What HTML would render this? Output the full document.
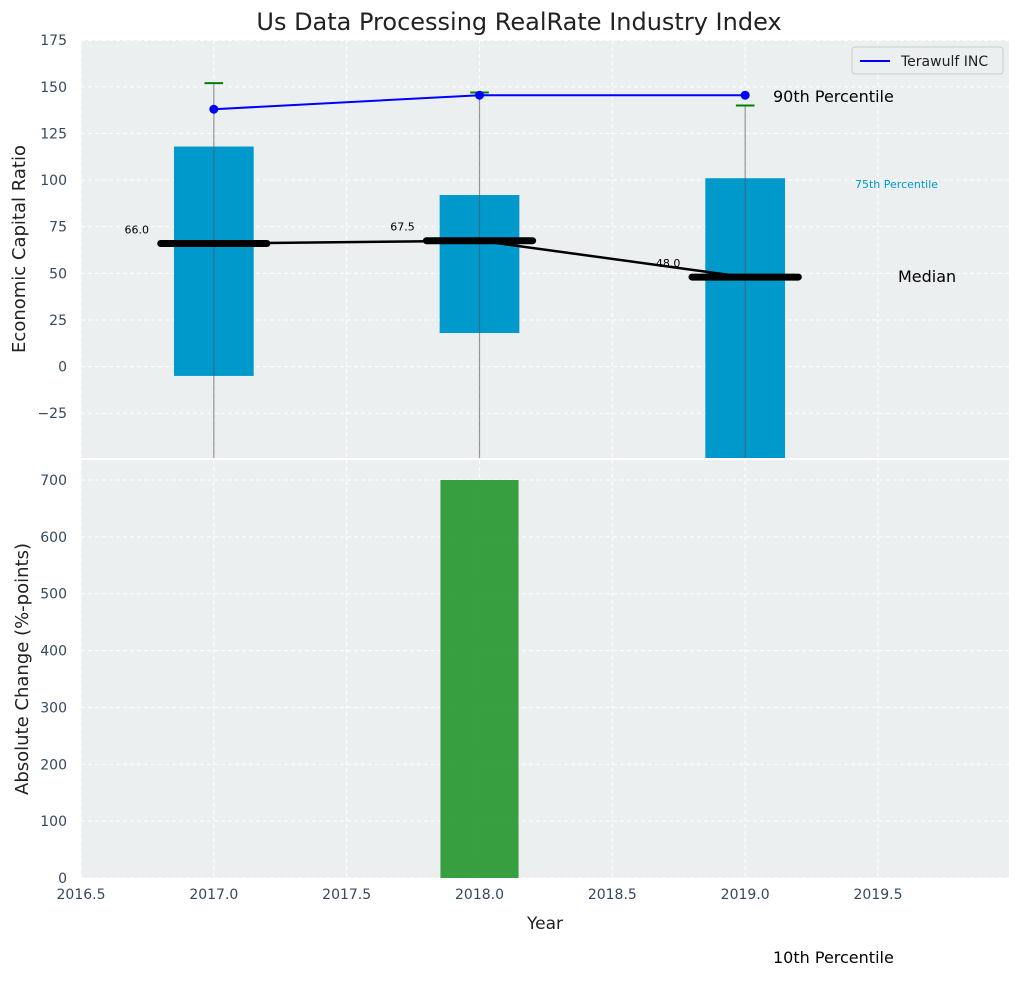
<!DOCTYPE html>
<html><head><meta charset="utf-8"><style>
body{margin:0;background:#fff;}
svg text{font-family:"DejaVu Sans","Liberation Sans",sans-serif;}
</style></head><body>
<svg id="c" width="1019" height="976" xmlns="http://www.w3.org/2000/svg"></svg>
<script>
const years=[2017,2018,2019];
const boxLow=[-5,18,-60];
const boxHigh=[118,92,101];
const whiskerTop=[152,147,140];
const companyVals=[138,145.5,145.5];
const medians=[66,67.5,48];
const changeYears=[2018];
const changeVals=[700];
const xTicks=[2016.5,2017,2017.5,2018,2018.5,2019,2019.5];
const yTopTicks=[-25,0,25,50,75,100,125,150,175];
const yBotTicks=[0,100,200,300,400,500,600,700];

const NS="http://www.w3.org/2000/svg";
const svg=document.getElementById('c');
function el(t,a,p){const e=document.createElementNS(NS,t);for(const k in a)e.setAttribute(k,a[k]);(p||svg).appendChild(e);return e;}
const L=81,R=1009,T1=40,B1=458,T2=460,B2=878;
const x=v=>L+(v-2016.5)*(797/3);
const y1=v=>366.6-v*(46.625/25);
const y2=v=>B2-v*(398/700);

let r=el('rect',{x:L,y:T1,width:R-L,height:B1-T1,fill:'#ebeff0'});

r=el('rect',{x:L,y:T2,width:R-L,height:B2-T2,fill:'#ebeff0'});


const clip=el('clipPath',{id:'cp1'});el('rect',{x:L,y:T1,width:R-L,height:B1-T1},clip);
const g1=el('g',{'clip-path':'url(#cp1)'});

const g2=el('g',{});


xTicks.forEach(v=>{
 el('line',{x1:x(v),x2:x(v),y1:T1,y2:B1,stroke:'#fff','stroke-dasharray':'4,3','stroke-width':1},g1);
 el('line',{x1:x(v),x2:x(v),y1:T2,y2:B2,stroke:'#fff','stroke-dasharray':'4,3','stroke-width':1},g2);
 const t=el('text',{x:x(v),y:B2+21,'font-size':14,fill:'#34495e','text-anchor':'middle'});t.textContent=v.toFixed(1);
 
});
yTopTicks.forEach(v=>{
 el('line',{x1:L,x2:R,y1:y1(v),y2:y1(v),stroke:'#fff','stroke-dasharray':'4,3'},g1);
 const t=el('text',{x:L-14,y:y1(v)+5,'font-size':14,fill:'#34495e','text-anchor':'end'});t.textContent=v<0?'\u2212'+(-v):v;
 
});
yBotTicks.forEach(v=>{
 el('line',{x1:L,x2:R,y1:y2(v),y2:y2(v),stroke:'#fff','stroke-dasharray':'4,3'},g2);
 const t=el('text',{x:L-14,y:y2(v)+5,'font-size':14,fill:'#34495e','text-anchor':'end'});t.textContent=v;
 
});

years.forEach((yr,i)=>{
 const b=el('rect',{x:x(yr-0.15),y:y1(boxHigh[i]),width:x(yr+0.15)-x(yr-0.15),height:y1(boxLow[i])-y1(boxHigh[i]),fill:'#0099cc'},g1);
 
 const w=el('line',{x1:x(yr),x2:x(yr),y1:B1+5,y2:y1(whiskerTop[i]),stroke:'#555','stroke-opacity':0.6,'stroke-width':1.2},g1);
 
 const c=el('line',{x1:x(yr-0.035),x2:x(yr+0.035),y1:y1(whiskerTop[i]),y2:y1(whiskerTop[i]),stroke:'green','stroke-width':2},g1);
 
});
let pts=years.map((yr,i)=>x(yr)+','+y1(medians[i])).join(' ');
let p=el('polyline',{points:pts,fill:'none',stroke:'#000','stroke-width':2.5},g1);

years.forEach((yr,i)=>{
 const m=el('line',{x1:x(yr-0.2),x2:x(yr+0.2),y1:y1(medians[i]),y2:y1(medians[i]),stroke:'#000','stroke-width':7,'stroke-linecap':'round'},g1);
 
 const t=el('text',{x:x(yr-0.29),y:y1(medians[i])-10,'font-size':11,fill:'#000','text-anchor':'middle'},g1);t.textContent=medians[i].toFixed(1);
 
});
pts=years.map((yr,i)=>x(yr)+','+y1(companyVals[i])).join(' ');
p=el('polyline',{points:pts,fill:'none',stroke:'#0000ff','stroke-width':2},g1);

years.forEach((yr,i)=>{
 const d=el('circle',{cx:x(yr),cy:y1(companyVals[i]),r:4.5,fill:'#0000ff'},g1);
 
});
changeYears.forEach((yr,i)=>{
 const b=el('rect',{x:x(yr-0.147),y:y2(changeVals[i]),width:x(yr+0.147)-x(yr-0.147),height:y2(0)-y2(changeVals[i]),fill:'#2e9a36','fill-opacity':0.95},g2);
 
});

function txt(s,a,n){const t=el('text',a);t.textContent=s;return t;}
txt('Us Data Processing RealRate Industry Index',{x:519,y:30,'font-size':24,fill:'#222','text-anchor':'middle'},'chart-title');
txt('90th Percentile',{x:773,y:102,'font-size':16,fill:'#000'},'label-90th');
txt('75th Percentile',{x:855,y:188,'font-size':11,fill:'#0099cc'},'label-75th');
txt('Median',{x:898,y:282,'font-size':16,fill:'#000'},'label-median');
txt('10th Percentile',{x:773,y:963,'font-size':16,fill:'#000'},'label-10th');
txt('Year',{x:545,y:929,'font-size':17,fill:'#222','text-anchor':'middle'},'x-axis-title');
txt('Economic Capital Ratio',{x:25,y:249,'font-size':18,fill:'#222','text-anchor':'middle',transform:'rotate(-90 25 249)'},'y-axis-title-top');
txt('Absolute Change (%-points)',{x:28,y:669,'font-size':18,fill:'#222','text-anchor':'middle',transform:'rotate(-90 28 669)'},'y-axis-title-bottom');
const lg=el('g',{});
el('rect',{x:852,y:47,width:151,height:27,rx:3,fill:'#ebeff0',stroke:'#ccc'},lg);
el('line',{x1:860,x2:890,y1:61,y2:61,stroke:'#0000ff','stroke-width':2},lg);
const lt=el('text',{x:901,y:66,'font-size':14,fill:'#222'},lg);lt.textContent='Terawulf INC';

</script>
</body></html>
